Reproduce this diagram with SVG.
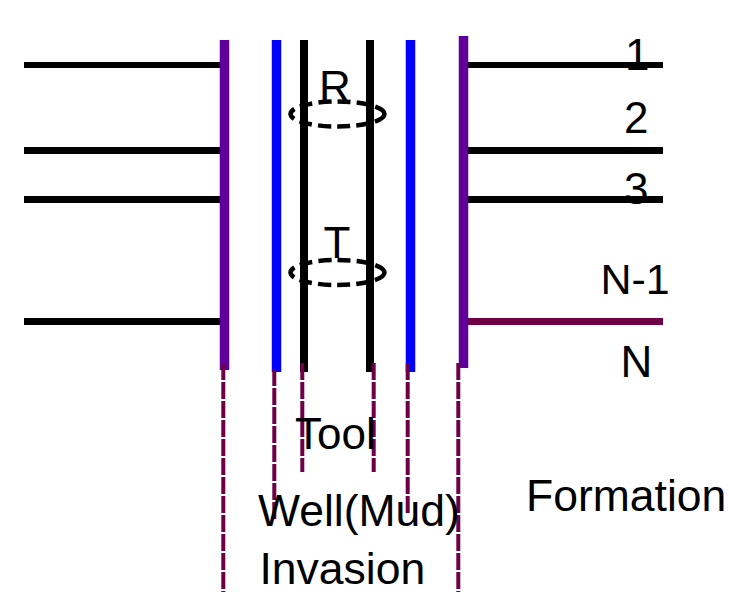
<svg xmlns="http://www.w3.org/2000/svg" width="729" height="592" viewBox="0 0 729 592">
<style>
text{font-family:"Liberation Sans",Arial,sans-serif;font-size:44px;fill:#000}
.w{font-size:44.500px}
.n{font-size:43px}
.k{stroke:#000;fill:none}
.h6{stroke-width:6}
.h7{stroke-width:7}
.p{stroke:#5f009c;stroke-width:9.500;fill:none}
.b{stroke:#0000ff;stroke-width:9.500;fill:none}
.t{stroke:#000;stroke-width:8;fill:none}
.d{stroke:#6e0046;stroke-width:4;stroke-dasharray:17 2;fill:none}
.e{stroke:#000;stroke-width:4.500;stroke-dasharray:13 6;fill:none}
</style>
<rect width="729" height="592" fill="#fff"/>
<g id="layers">
<path class="k h6" d="M24 65H220M468 65H663"/>
<path class="k h7" d="M24 150.500H220M468 150.500H663M24 199.500H220M468 199.500H663M24 321.500H220"/>
<path d="M468 321.500H663" stroke="#6e0046" stroke-width="7" fill="none"/>
</g>
<g id="walls">
<path class="p" d="M224.500 40V370M463.500 36V368"/>
<path class="b" d="M276.500 40V372M410.500 40V372"/>
<path class="t" d="M304 40V372M370 40V372"/>
</g>
<g id="coils">
<ellipse class="e" cx="337.500" cy="114" rx="47" ry="12.500"/>
<ellipse class="e" cx="337.500" cy="272.500" rx="47" ry="12.500"/>
</g>
<g id="connectors">
<path class="d" d="M223.300 363V592M458.300 363V592M274.300 369V520M407.700 363V515M302.300 363V472M373.700 363V472"/>
</g>
<g id="labels">
<text x="319" y="102">R</text>
<text x="323.500" y="258">T</text>
<text x="625" y="70">1</text>
<text x="624" y="133">2</text>
<text x="624" y="204">3</text>
<text class="n" x="600.500" y="294">N-1</text>
<text x="620.500" y="377">N</text>
<text x="295" y="449">Tool</text>
<text class="w" x="258" y="526">Well(Mud)</text>
<text class="w" x="259.500" y="584">Invasion</text>
<text class="w" x="526" y="511">Formation</text>
</g>
</svg>
